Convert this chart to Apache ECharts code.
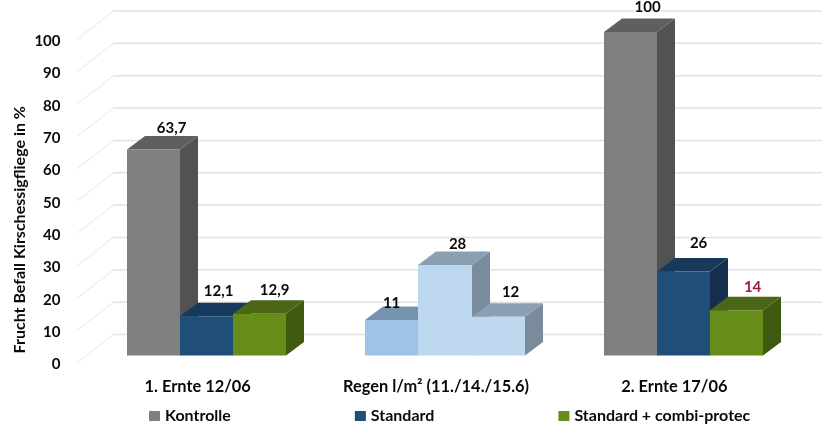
<!DOCTYPE html>
<html>
<head>
<meta charset="utf-8">
<style>
  html, body { margin: 0; background: #fff; }
  #chart { width: 822px; height: 430px; }
</style>
</head>
<body>
<div id="chart"></div>
<script src="https://cdn.jsdelivr.net/npm/echarts@6/dist/echarts.min.js"></script>
<script>
const categories = ['1. Ernte 12/06', 'Regen l/m² (11./14./15.6)', '2. Ernte 17/06']
const kontrolle = [63.7, 11, 100]
const standard = [12.1, 28, 26]
const combiProtec = [12.9, 12, 14]
const wallTicks = [0, 10, 20, 30, 40, 50, 60, 70, 80, 90, 100]

const fontFamily = 'Lato, "Open Sans", sans-serif'
const textColor = '#0a0a0a'

// front / top / side of every bar, the rain group has its own blues
const gray = ['#7f7f7f', '#5f5f5f', '#525252']
const blue = ['#1f4e79', '#173a5c', '#132f4d']
const green = ['#668c1a', '#4b6614', '#3f5a10']
const rainDark = ['#9dc3e6', '#7593ae', '#7a8b9b']
const rainLight = ['#bdd7ee', '#8b9fb2', '#7a8b9b']

// 3d offset of the bar depth
const depthX = 18
const depthY = -13.5

function quad(points, color) {
  return { type: 'polygon', shape: { points }, style: { fill: color } }
}

// every bar is front, top and side face, placed through the axes
function barRenderer(slot, colors, nudges, labelColors) {
  return (params, api) => {
    const i = api.value(0)
    const value = api.value(1)
    const band = api.size([1, 0])[0]
    const w = band * 0.2231
    const center = api.coord([i, 0])[0]
    // whole pixels, otherwise same coloured neighbours show a seam
    const x0 = Math.round(center - 1.5 * w + slot * w)
    const x1 = Math.round(center - 1.5 * w + (slot + 1) * w)
    const yBase = api.coord([i, 0])[1]
    const yTop = api.coord([i, value])[1]
    const c = colors[i]
    return {
      type: 'group',
      children: [
        quad([[x1, yBase], [x1 + depthX, yBase + depthY], [x1 + depthX, yTop + depthY], [x1, yTop]], c[2]),
        quad([[x0, yTop], [x1, yTop], [x1 + depthX, yTop + depthY], [x0 + depthX, yTop + depthY]], c[1]),
        quad([[x0, yBase], [x1, yBase], [x1, yTop], [x0, yTop]], c[0]),
        {
          type: 'text',
          z2: 10,
          style: {
            x: x0 + w / 2 + nudges[i][0],
            y: yTop + depthY + nudges[i][1],
            text: String(value).replace('.', ','),
            align: 'center',
            verticalAlign: 'middle',
            fill: labelColors[i],
            font: 'bold 15px ' + fontFamily
          }
        }
      ]
    }
  }
}

// back wall lines with the diagonal running forward to the axis labels
function wallRenderer(params, api) {
  const y = api.coord([0, api.value(0)])[1]
  const left = params.coordSys.x
  const backX = left + 26
  const backY = y - 21
  const lineStyle = { stroke: '#e2e2e2', lineWidth: 1.5 }
  return {
    type: 'group',
    children: [
      { type: 'line', shape: { x1: left - 10, y1: y + 7, x2: backX, y2: backY }, style: { stroke: '#e6e6e6', lineWidth: 1 } },
      { type: 'line', shape: { x1: backX, y1: backY, x2: 822, y2: backY }, style: lineStyle }
    ]
  }
}

function barSeries(name, values, slot, colors, nudges, labelColors) {
  return {
    name,
    type: 'custom',
    coordinateSystem: 'cartesian2d',
    clip: false,
    itemStyle: { color: colors[0][0] },
    encode: { x: 0, y: 1 },
    data: values.map((v, i) => [i, v]),
    renderItem: barRenderer(slot, colors, nudges, labelColors)
  }
}

const chart = echarts.init(document.getElementById('chart'))
chart.setOption({
  backgroundColor: '#fff',
  animation: false,
  grid: { left: 87.5, right: 19.5, top: 32, bottom: 74.5, outerBoundsMode: 'none', containLabel: false },
  legend: {
    left: 144,
    top: 403,
    itemWidth: 11,
    itemHeight: 10,
    itemGap: 124,
    icon: 'rect',
    data: ['Kontrolle', 'Standard', 'Standard + combi-protec'],
    textStyle: { color: textColor, fontFamily, fontWeight: 'bold', fontSize: 16 }
  },
  xAxis: {
    type: 'category',
    data: categories,
    axisLine: { show: false },
    axisTick: { show: false },
    splitLine: { show: false },
    axisLabel: {
      interval: 0,
      margin: 23,
      padding: [0, 18, 0, 0],
      color: textColor,
      fontFamily,
      fontWeight: 'bold',
      fontSize: 16.4
    }
  },
  yAxis: {
    type: 'value',
    min: 0,
    max: 100,
    interval: 10,
    name: 'Frucht Befall Kirschessigfliege in %',
    nameLocation: 'middle',
    nameGap: 60,
    nameMoveOverlap: false,
    nameTextStyle: {
      color: textColor,
      fontFamily,
      fontWeight: 'bold',
      fontSize: 16,
      padding: [0, 72, 0, 0]
    },
    axisLine: { show: false },
    axisTick: { show: false },
    splitLine: { show: false },
    axisLabel: {
      margin: 27,
      verticalAlign: 'top',
      lineHeight: 18,
      color: textColor,
      fontFamily,
      fontWeight: 'bold',
      fontSize: 15
    }
  },
  series: [
    {
      type: 'custom',
      coordinateSystem: 'cartesian2d',
      clip: false,
      silent: true,
      encode: { y: 0 },
      data: wallTicks.map((v) => [v]),
      renderItem: wallRenderer
    },
    barSeries('Kontrolle', kontrolle, 0, [gray, rainDark, gray],
      [[18, -8], [0, -3], [17, -11]], [textColor, textColor, textColor]),
    barSeries('Standard', standard, 1, [blue, rainLight, blue],
      [[12, -12], [13, -7], [15, -15]], [textColor, textColor, textColor]),
    barSeries('Standard + combi-protec', combiProtec, 2, [green, rainLight, green],
      [[15, -10], [12, -11], [16, -10]], [textColor, textColor, '#9e1b3c'])
  ]
})
</script>
</body>
</html>
